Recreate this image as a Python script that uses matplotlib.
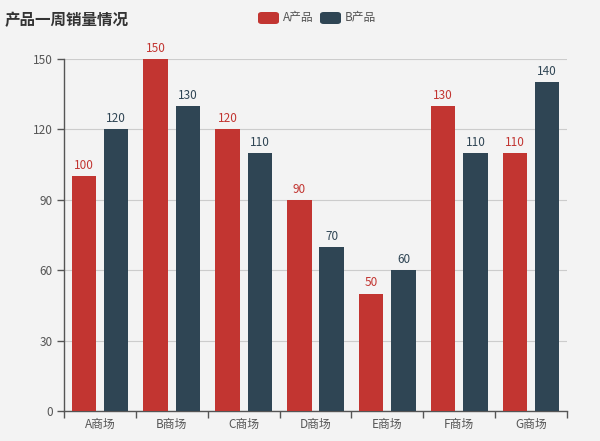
import numpy as np
import matplotlib.pyplot as plt
from matplotlib.patches import FancyBboxPatch

plt.rcParams['font.family'] = ['Noto Sans CJK SC', 'DejaVu Sans']

# data
shops = ['A商场', 'B商场', 'C商场', 'D商场', 'E商场', 'F商场', 'G商场']
sales_a = [100, 150, 120, 90, 50, 130, 110]
sales_b = [120, 130, 110, 70, 60, 110, 140]
series_names = ['A产品', 'B产品']
colors = ['#c23531', '#2f4554']
y_ticks = [0, 30, 60, 90, 120, 150]

bg = '#f3f3f3'
fig = plt.figure(figsize=(6, 4.41), dpi=100, facecolor=bg)
ax = fig.add_axes([64 / 600, 1 - 411 / 441, 503 / 600, 352 / 441])
ax.set_facecolor(bg)

x = np.arange(len(shops))
w = 0.34
off = 0.225
bars_a = ax.bar(x - off, sales_a, w, color=colors[0], zorder=3)
bars_b = ax.bar(x + off, sales_b, w, color=colors[1], zorder=3)

for bars, vals, c in [(bars_a, sales_a, colors[0]), (bars_b, sales_b, colors[1])]:
    for b, v in zip(bars, vals):
        ax.annotate(str(v), (b.get_x() + b.get_width() / 2, v), xytext=(0, 3),
                    textcoords='offset points', ha='center', va='bottom',
                    color=c, fontsize=8.5)

ax.set_xlim(-0.5, len(shops) - 0.5)
ax.set_ylim(0, 150)
ax.set_yticks(y_ticks)
ax.set_xticks(x)
ax.set_xticklabels(shops)
ax.set_xticks(np.arange(len(shops) + 1) - 0.5, minor=True)
ax.tick_params(axis='x', which='major', length=0, pad=5, labelsize=8.5, labelcolor='#555555')
ax.tick_params(axis='x', which='minor', length=5, direction='out', color='#555555', width=1)
ax.tick_params(axis='y', length=5, direction='out', color='#555555', width=1,
               labelsize=8.5, labelcolor='#555555', pad=3)

ax.grid(axis='y', color='#cccccc', linewidth=0.8, zorder=0)
for s in ['top', 'right']:
    ax.spines[s].set_visible(False)
for s in ['left', 'bottom']:
    ax.spines[s].set_color('#555555')
    ax.spines[s].set_linewidth(1)

fig.text(5 / 600, 1 - 20 / 441, '产品一周销量情况', fontsize=11.2, fontweight='bold',
         color='#333333', ha='left', va='center')

# legend
legend_x = [258, 320]
for lx, name, c in zip(legend_x, series_names, colors):
    p = FancyBboxPatch((lx / 600, 1 - 24 / 441), 21 / 600, 12 / 441,
                       boxstyle='round,pad=0,rounding_size=0.006',
                       transform=fig.transFigure, facecolor=c, edgecolor='none')
    fig.patches.append(p)
    fig.text((lx + 25) / 600, 1 - 18 / 441, name, fontsize=8.5, color='#555555',
             ha='left', va='center')

fig.savefig('out.png', dpi=100, facecolor=bg)
